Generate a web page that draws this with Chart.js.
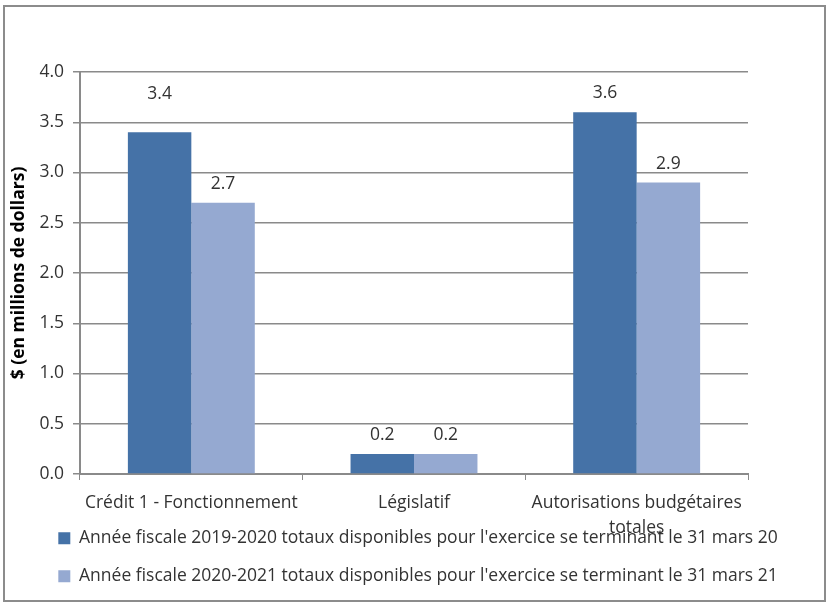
<!DOCTYPE html>
<html>
<head>
<meta charset="utf-8">
<script src="https://cdn.jsdelivr.net/npm/chart.js@4/dist/chart.umd.min.js"></script>
<style>
    body { margin: 0; background: #fff; }
    #cadre { position: absolute; left: 3px; top: 5px; width: 819px; height: 593px; border: 2px solid #8c8c8c; }
    #graphique { position: absolute; left: 0; top: 0; }
</style>
</head>
<body>
<div id="cadre"></div>
<canvas id="graphique" width="828" height="606"></canvas>
<script>
// Données du graphique
const categories = ['Crédit 1 - Fonctionnement', 'Législatif', ['Autorisations budgétaires', 'totales']];
const serie2020 = [3.4, 0.2, 3.6];
const serie2021 = [2.7, 0.2, 2.9];
const nomSerie2020 = "Année fiscale 2019-2020 totaux disponibles pour l'exercice se terminant le 31 mars 20";
const nomSerie2021 = "Année fiscale 2020-2021 totaux disponibles pour l'exercice se terminant le 31 mars 21";
const titreAxeY = '$ (en millions de dollars)';

const police = '"Open Sans", "Noto Sans", sans-serif';
const taille = 17.5;
const texte = '#333333';
const gris = '#8a8a8a';

// Étiquettes de valeur au-dessus des barres
const etiquettes = {
    id: 'etiquettes',
    beforeDraw(chart) {
        // laisser la 2e ligne de l'étiquette déborder sous l'axe (pas de découpage)
        chart.scales.x.bottom = chart.height;
    },
    afterDatasetsDraw(chart) {
        const ctx = chart.ctx;
        ctx.save();
        ctx.font = taille + 'px ' + police;
        ctx.fillStyle = texte;
        ctx.textAlign = 'center';
        ctx.textBaseline = 'middle';
        chart.data.datasets.forEach((ds, i) => {
            chart.getDatasetMeta(i).data.forEach((bar, j) => {
                // l'étiquette 3.4 a été déplacée plus haut dans l'original
                const decalage = (i === 0 && j === 0) ? 38 : 19;
                ctx.fillText(ds.data[j].toFixed(1), bar.x, bar.y - decalage);
            });
        });
        ctx.restore();
    }
};

new Chart(document.getElementById('graphique'), {
    type: 'bar',
    data: {
        labels: categories,
        datasets: [
            { label: nomSerie2020, data: serie2020, backgroundColor: '#4572a7', categoryPercentage: 0.57, barPercentage: 1 },
            { label: nomSerie2021, data: serie2021, backgroundColor: '#95a9d1', categoryPercentage: 0.57, barPercentage: 1 }
        ]
    },
    options: {
        responsive: false,
        animation: false,
        devicePixelRatio: 1,
        layout: { padding: { left: 8, right: 0, top: 72, bottom: 11 } },
        plugins: {
            tooltip: { enabled: false },
            legend: {
                position: 'bottom',
                align: 'center',
                labels: {
                    font: { family: police, size: taille },
                    color: texte,
                    boxWidth: 12,
                    boxHeight: 12,
                    padding: 20.5
                }
            }
        },
        scales: {
            x: {
                grid: { drawOnChartArea: false, drawTicks: true, tickLength: 6, color: gris },
                border: { color: gris, width: 2 },
                ticks: { font: { family: police, size: taille, lineHeight: 1.4 }, color: texte, maxRotation: 0, padding: 11 },
                afterFit: (scale) => { scale.height = 35; }
            },
            y: {
                min: 0,
                max: 4,
                ticks: {
                    stepSize: 0.5,
                    font: { family: police, size: taille },
                    color: texte,
                    padding: 9,
                    callback: (v) => Number(v).toFixed(1)
                },
                grid: { color: gris, lineWidth: 1.5, tickLength: 7 },
                border: { color: gris, width: 2 },
                title: {
                    display: true,
                    text: titreAxeY,
                    font: { family: police, size: taille, weight: 'bold' },
                    color: '#000',
                    padding: { top: 1, bottom: 0 }
                },
                afterFit: (scale) => { scale.width = 72; }
            },
            // axe vide à droite : réserve la marge sans décentrer la légende
            marge: {
                type: 'linear',
                position: 'right',
                grid: { display: false },
                border: { display: false },
                ticks: { display: false },
                afterFit: (scale) => { scale.width = 80; }
            }
        }
    },
    plugins: [etiquettes]
});
</script>
</body>
</html>
